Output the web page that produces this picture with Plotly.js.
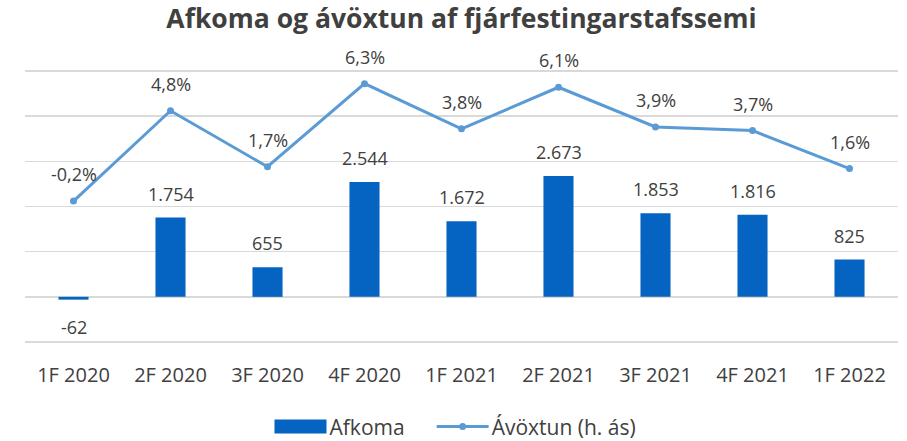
<!DOCTYPE html>
<html>
<head>
<meta charset="utf-8">
<script src="https://cdn.plot.ly/plotly-3.0.1.min.js"></script>
<style>html,body{margin:0;padding:0;background:#fff;}#chart{width:907px;height:441px;}</style>
</head>
<body>
<div id="chart"></div>
<script>
const categories = ["1F 2020","2F 2020","3F 2020","4F 2020","1F 2021","2F 2021","3F 2021","4F 2021","1F 2022"];
const afkoma = [-62, 1754, 655, 2544, 1672, 2673, 1853, 1816, 825];
const avoxtun = [-0.2, 4.8, 1.7, 6.3, 3.8, 6.1, 3.9, 3.7, 1.6];

const textColor = "#404040";
const fontFam = "Open Sans, sans-serif";

function fmtInt(v){
  const s = Math.abs(v).toString().replace(/\B(?=(\d{3})+(?!\d))/g, ".");
  return (v < 0 ? "-" : "") + s;
}
function fmtPct(v){
  return v.toFixed(1).replace(".", ",") + "%";
}

const traces = [
  {
    type: "bar", name: "Afkoma", x: categories, y: afkoma,
    marker: {color: "#0563C1"}, yaxis: "y", hoverinfo: "skip"
  },
  {
    type: "scatter", mode: "lines+markers", name: "Ávöxtun (h. ás)",
    x: categories, y: avoxtun, yaxis: "y2",
    line: {color: "#5B9BD5", width: 3}, marker: {color: "#5B9BD5", size: 7},
    hoverinfo: "skip"
  }
];

const annotations = [];
categories.forEach((c, i) => {
  annotations.push({
    x: c, y: afkoma[i], xref: "x", yref: "y", text: fmtInt(afkoma[i]),
    showarrow: false, yshift: afkoma[i] < 0 ? -27 : 24,
    font: {family: fontFam, size: 18, color: textColor}
  });
  annotations.push({
    x: c, y: avoxtun[i], xref: "x", yref: "y2", text: fmtPct(avoxtun[i]),
    showarrow: false, yshift: 27,
    font: {family: fontFam, size: 18, color: textColor}
  });
});

const layout = {
  width: 907, height: 441,
  margin: {l: 25, r: 9, t: 69, b: 97},
  paper_bgcolor: "#fff", plot_bgcolor: "#fff",
  separators: ",.",
  title: {
    text: "<b>Afkoma og ávöxtun af fjárfestingarstafssemi</b>",
    x: 0.5, xanchor: "center", xref: "paper", y: 0.958, yanchor: "middle", yref: "container",
    font: {family: fontFam, size: 26.5, color: "#404040"}
  },
  bargap: 0.69,
  xaxis: {
    type: "category", showgrid: false, zeroline: false, showline: false,
    ticks: "", tickfont: {family: fontFam, size: 20, color: textColor},
    ticklabelstandoff: 17, automargin: false
  },
  yaxis: {
    range: [-1044, 5044], dtick: 1000, tick0: 0, showticklabels: false,
    showgrid: true, gridcolor: "#D9D9D9", gridwidth: 1.5,
    zeroline: true, zerolinecolor: "#D9D9D9", zerolinewidth: 1.5, fixedrange: true,
    automargin: false
  },
  yaxis2: {
    range: [-8.11, 7.11], overlaying: "y", side: "right", showticklabels: false,
    showgrid: false, zeroline: false, fixedrange: true, automargin: false
  },
  showlegend: true,
  legend: {
    orientation: "h", x: 0.5, xanchor: "center", xref: "container",
    y: 0.032, yanchor: "middle", yref: "container",
    font: {family: fontFam, size: 21, color: textColor}, itemwidth: 50
  },
  annotations: annotations
};

function parseT(el){
  const t = el.getAttribute("transform") || "";
  const m = t.match(/translate\(\s*([-\d.]+)[ ,]*([-\d.]*)\s*\)/);
  return m ? [parseFloat(m[1]), parseFloat(m[2] || 0)] : [0, 0];
}

Plotly.newPlot("chart", traces, layout, {displayModeBar: false, staticPlot: true}).then(gd => {
  const lg = gd.querySelector(".legend");
  if (!lg) return;
  lg.querySelectorAll("[clip-path]").forEach(el => el.removeAttribute("clip-path"));
  const items = lg.querySelectorAll(".traces");
  const extraGap = 22;
  items.forEach((it, idx) => {
    if (idx === 0) {
      it.querySelectorAll(".legendpoints path").forEach(p => {
        p.setAttribute("d", "M-26,7H26V-7H-26Z");
        p.setAttribute("transform", "translate(31,0)");
      });
    } else {
      it.querySelectorAll(".legendlines path").forEach(p => {
        p.setAttribute("d", "M5,0h52");
      });
      it.querySelectorAll(".legendpoints path").forEach(p => {
        p.setAttribute("transform", "translate(31,0)");
      });
      const [tx, ty] = parseT(it);
      it.setAttribute("transform", "translate(" + (tx + extraGap) + "," + ty + ")");
    }
  });
  const [lx, ly] = parseT(lg);
  lg.setAttribute("transform", "translate(" + (lx - extraGap / 2 + 2) + "," + ly + ")");
});
</script>
</body>
</html>
